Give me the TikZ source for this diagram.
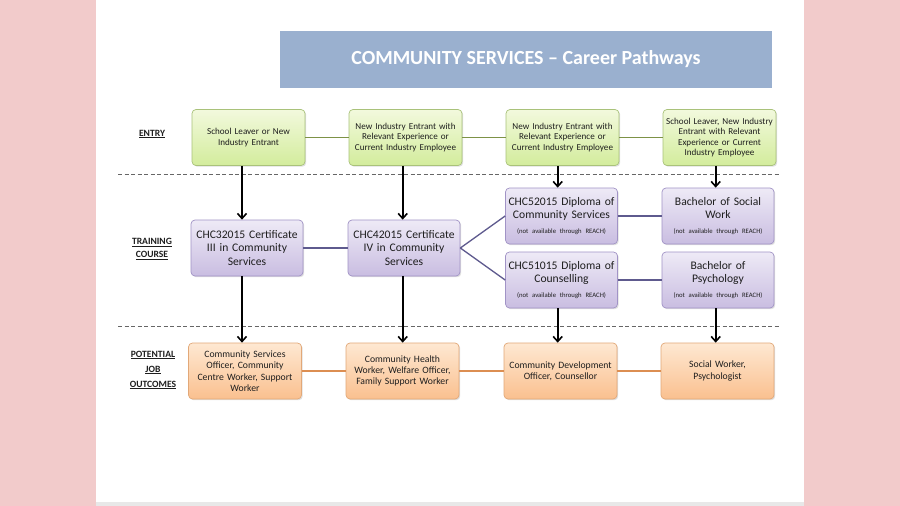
\documentclass[tikz,border=0pt]{standalone}
\usepackage{fontspec}
\setmainfont{Carlito}
\usetikzlibrary{arrows.meta,shadows}
\definecolor{pinkbg}{HTML}{F2CBCB}
\definecolor{banner}{HTML}{9AB0CF}
\definecolor{gtop}{HTML}{F2F9DD}
\definecolor{gbot}{HTML}{D3EC9C}
\definecolor{gline}{HTML}{7D9246}
\definecolor{gborder}{HTML}{A9C27A}
\definecolor{ptop}{HTML}{EEEAF6}
\definecolor{pbot}{HTML}{C9BDE1}
\definecolor{pline}{HTML}{5E5A8E}
\definecolor{pborder}{HTML}{A193C6}
\definecolor{otop}{HTML}{FEE8D2}
\definecolor{obot}{HTML}{FAC08F}
\definecolor{oline}{HTML}{DC8E52}
\definecolor{oborder}{HTML}{E2A878}
\definecolor{labtxt}{HTML}{1E1E1E}
\tikzset{
  boxbase/.style={rounded corners=4pt, line width=0.7pt, align=center, inner sep=1.5pt,
    minimum height=56pt, text=labtxt,
    drop shadow={shadow xshift=1.2pt, shadow yshift=-1.2pt, opacity=0.25}},
  entrybox/.style={boxbase, draw=gborder, top color=gtop, bottom color=gbot,
    minimum width=113pt, text width=110pt, font=\fontsize{9.1}{10.5}\selectfont},
  coursebox/.style={boxbase, draw=pborder, top color=ptop, bottom color=pbot,
    minimum width=112pt, text width=109pt, font=\fontsize{11.6}{13.4}\selectfont},
  jobbox/.style={boxbase, draw=oborder, top color=otop, bottom color=obot,
    minimum width=113pt, text width=110pt, font=\fontsize{9.7}{11.4}\selectfont},
  rowlabel/.style={align=center, font=\fontsize{9.6}{13.5}\selectfont\bfseries, text=labtxt},
  arr/.style={line width=1.8pt, -{Straight Barb[length=5pt,width=9pt,line width=1.6pt]}},
  sep/.style={draw=gray!80!black, line width=0.8pt, dash pattern=on 4pt off 2.5pt},
  gconn/.style={draw=gline, line width=1.3pt},
  oconn/.style={draw=oline, line width=1.3pt},
  pconn/.style={draw=pline, line width=1.3pt},
}
\newcommand{\noteline}[1]{\\[1.5pt]\mbox{\fontsize{6.7}{8}\selectfont #1}}
\begin{document}
\begin{tikzpicture}[x=1pt,y=-1pt]
\fill[pinkbg] (0,0) rectangle (900,506);
\fill[white] (96,0) rectangle (804,502);
\fill[gray!18] (96,502) rectangle (804,506);
\useasboundingbox (0,0) rectangle (900,506);

% title
\node[fill=banner, minimum width=492pt, minimum height=57pt, text=white,
  font=\fontsize{20}{22}\selectfont\bfseries] (title) at (526,59.5) {COMMUNITY SERVICES -- Career Pathways};

% row labels
\node[rowlabel] (lentry) at (152,134) {\underline{ENTRY}};
\node[rowlabel] (ltrain) at (152,249) {\underline{TRAINING}\\\underline{COURSE}};
\node[rowlabel, font=\fontsize{9.6}{15}\selectfont\bfseries] (ljob) at (153,370) {\underline{POTENTIAL}\\\underline{JOB}\\\underline{OUTCOMES}};

% separators
\coordinate (s1a) at (118,174.5);
\coordinate (s1b) at (780,174.5);
\coordinate (s2a) at (118,326.5);
\coordinate (s2b) at (780,326.5);
\draw[sep] (s1a) -- (s1b);
\draw[sep] (s2a) -- (s2b);

% entry boxes
\node[entrybox] (e1) at (248.5,137.5) {School Leaver or New\\Industry Entrant};
\node[entrybox] (e2) at (405.5,137.5) {New Industry Entrant with\\Relevant Experience or\\Current Industry Employee};
\node[entrybox] (e3) at (562.5,137.5) {New Industry Entrant with\\Relevant Experience or\\Current Industry Employee};
\node[entrybox] (e4) at (719.5,137.5) {School Leaver, New Industry\\Entrant with Relevant\\Experience or Current\\Industry Employee};

% course boxes
\node[coursebox] (c1) at (247,248) {CHC32015 Certificate\\III in Community\\Services};
\node[coursebox] (c2) at (404,248) {CHC42015 Certificate\\IV in Community\\Services};
\node[coursebox] (d1) at (561.5,216) {CHC52015 Diploma of\\Community Services\noteline{(not available through REACH)}};
\node[coursebox] (d2) at (561.5,280) {CHC51015 Diploma of\\Counselling\noteline{(not available through REACH)}};
\node[coursebox] (b1) at (718,216) {Bachelor of Social\\Work\noteline{(not available through REACH)}};
\node[coursebox] (b2) at (718,280) {Bachelor of\\Psychology\noteline{(not available through REACH)}};

% job boxes
\node[jobbox] (j1) at (245,371) {Community Services\\Officer, Community\\Centre Worker, Support\\Worker};
\node[jobbox] (j2) at (402.5,371) {Community Health\\Worker, Welfare Officer,\\Family Support Worker};
\node[jobbox] (j3) at (560.5,371) {Community Development\\Officer, Counsellor};
\node[jobbox] (j4) at (717.5,371) {Social Worker,\\Psychologist};

% entry connectors
\draw[gconn] (e1.east) -- (e2.west);
\draw[gconn] (e2.east) -- (e3.west);
\draw[gconn] (e3.east) -- (e4.west);

% course connectors
\draw[pconn] (c1.east) -- (c2.west);
\draw[pconn] (c2.east) -- (d1.west);
\draw[pconn] (c2.east) -- (d2.west);
\draw[pconn] (d1.east) -- (b1.west);
\draw[pconn] (d2.east) -- (b2.west);

% job connectors
\draw[oconn] (j1.east) -- (j2.west);
\draw[oconn] (j2.east) -- (j3.west);
\draw[oconn] (j3.east) -- (j4.west);

% arrow columns
\coordinate (a1) at (242,0);
\coordinate (a2) at (402.7,0);
\coordinate (a3) at (557.7,0);
\coordinate (a4) at (715.7,0);
\draw[arr] (e1.south -| a1) -- (c1.north -| a1);
\draw[arr] (e2.south -| a2) -- (c2.north -| a2);
\draw[arr] (e3.south -| a3) -- (d1.north -| a3);
\draw[arr] (e4.south -| a4) -- (b1.north -| a4);
\draw[arr] (c1.south -| a1) -- (j1.north -| a1);
\draw[arr] (c2.south -| a2) -- (j2.north -| a2);
\draw[arr] (d2.south -| a3) -- (j3.north -| a3);
\draw[arr] (b2.south -| a4) -- (j4.north -| a4);
\end{tikzpicture}
\end{document}
